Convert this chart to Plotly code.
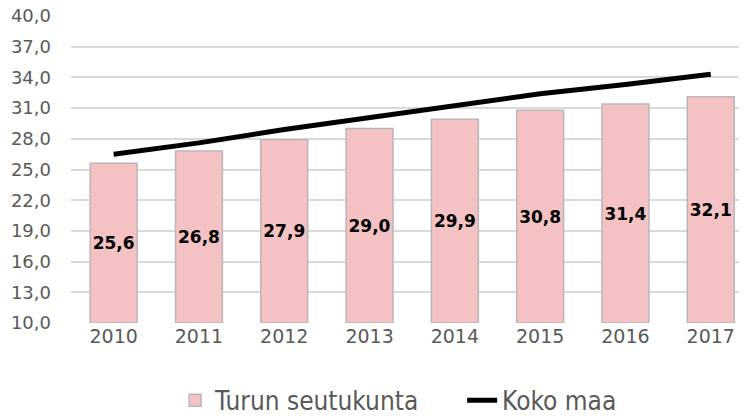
import plotly.graph_objects as go

# vuodet ja arvot
vuodet = ["2010", "2011", "2012", "2013", "2014", "2015", "2016", "2017"]
turun_seutukunta = [25.6, 26.8, 27.9, 29.0, 29.9, 30.8, 31.4, 32.1]
koko_maa = [26.5, 27.6, 28.9, 30.1, 31.3, 32.4, 33.3, 34.3]
akselin_alku = 10

fontti = "DejaVu Sans"

fig = go.Figure()

# pylväät alkavat akselin alusta, jotta arvot keskittyvät näkyvään osaan
fig.add_trace(go.Bar(
    x=vuodet, y=[v - akselin_alku for v in turun_seutukunta],
    base=akselin_alku, customdata=turun_seutukunta,
    name="Turun seutukunta",
    marker=dict(color="#F4C2C3", line=dict(color="#BDB5B5", width=1.5)),
    texttemplate="<b>%{customdata:.1f}</b>", textposition="inside",
    insidetextanchor="middle", textangle=0, constraintext="none",
    textfont=dict(family=fontti, size=17, color="#000000"),
))

fig.add_trace(go.Scatter(
    x=vuodet, y=koko_maa, name="Koko maa", mode="lines",
    line=dict(color="#000000", width=5),
))

# sivun oletusmarginaali (8 px) on otettu huomioon koossa
fig.update_layout(
    width=739, height=411,
    margin=dict(l=63, r=0, t=8, b=96, autoexpand=False),
    paper_bgcolor="white", plot_bgcolor="white",
    separators=", ",
    bargap=0.45,
    font=dict(family=fontti, color="#595959"),
    showlegend=True,
    legend=dict(
        orientation="h",
        x=0.154, xanchor="left", y=-0.252, yanchor="middle",
        font=dict(family="DejaVu Sans Condensed", size=26, color="#595959"),
        traceorder="normal", entrywidth=242,
    ),
)

fig.update_xaxes(
    type="category", range=[-0.5, 7.425], automargin=False,
    showgrid=False, showline=False, ticks="",
    tickfont=dict(family=fontti, size=19, color="#595959"),
)

fig.update_yaxes(
    range=[10, 40], tick0=10, dtick=3, tickformat=".1f", automargin=False,
    showgrid=True, gridcolor="#D9D9D9", gridwidth=1.5,
    zeroline=False, showline=False, ticks="",
    ticklabelstandoff=19, ticklabeloverflow="allow",
    tickfont=dict(family=fontti, size=18, color="#595959"),
)

fig.write_html("out.html")
